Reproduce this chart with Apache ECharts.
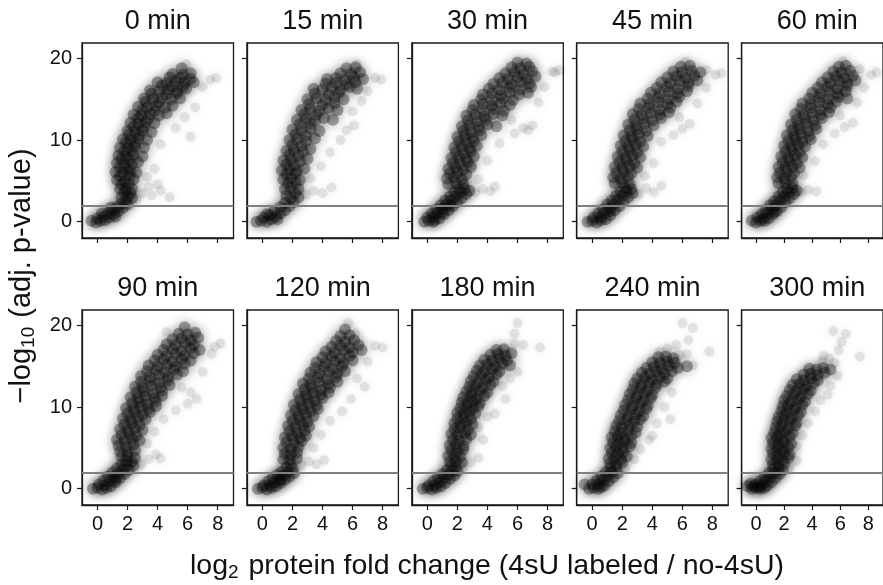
<!DOCTYPE html>
<html><head><meta charset="utf-8">
<script src="https://cdn.jsdelivr.net/npm/echarts@6/dist/echarts.min.js"></script>
<style>html,body{margin:0;padding:0;background:#fff}#c{width:883px;height:585px}</style>
</head><body><div id="c"></div>
<script>
const panelTitles = ['0 min','15 min','30 min','45 min','60 min','90 min','120 min','180 min','240 min','300 min'];
const xTicks = [0,2,4,6,8];
const yTicks = [0,10,20];
const threshold = 2;

// dense part of each panel's cloud
const core0 = [[-0.4,0.1],[-0.1,-0.1],[0.2,0.1],[0.5,0.2],[0.0,0.4],[0.4,0.6],[0.8,0.5],[0.3,1.0],[0.7,1.0],[1.1,0.9],[1.0,1.4],[1.4,1.3],[1.3,1.8],[1.7,1.7],[1.6,2.2],[2.0,2.1],[1.9,2.6],[1.2,0.6],[0.9,1.7],
[1.6,3],[2.0,3.1],[2.3,2.9],[1.8,3.6],[2.2,3.5],[1.5,4],[1.9,4.1],[2.3,4],[1.6,4.6],[2.1,4.7],[1.3,5.1],[1.8,5],[2.4,5.2],[1.5,5.6],[2.1,5.7],[1.2,6.1],[1.7,6],[2.2,6.2],[2.6,6],[1.5,6.7],[2.0,6.5],[1.3,7.2],[1.8,7],[2.3,7.1],[2.7,7.3],[1.6,7.7],[2.1,7.6],[1.4,8.1],[1.9,8],[2.4,8.2],[3.0,8],[1.8,8.7],[2.3,8.6],[1.5,9.1],[2.0,9],[2.5,9.2],[3.1,9.1],[1.9,9.7],[2.5,9.6],[1.7,10.1],[2.2,10],[2.7,10.2],[3.3,10],[2.1,10.7],[2.8,10.6],[2.0,11.1],[2.5,11],[3.0,11.2],[3.6,11],[2.4,11.7],[3.1,11.6],[2.2,12.1],[2.7,12],[3.2,12.2],[3.8,12.1],[2.7,12.7],[3.4,12.6],[2.4,13.1],[2.9,13],[3.5,13.2],[4.1,13],[4.6,13.3],[3.0,13.7],[3.8,13.6],[2.7,14.1],[3.3,14],[3.9,14.2],[4.5,14],[5.0,14.2],[3.2,14.7],[4.1,14.6],[3.1,15.1],[3.7,15],[4.3,15.2],[4.9,15],[5.5,15.1],[3.6,15.7],[4.6,15.6],[5.3,15.7],[3.5,16.1],[4.1,16],[4.7,16.2],[5.3,16],[5.9,16.3],[4.3,16.7],[5.0,16.6],[5.7,16.5],[4.0,17.1],[4.6,17],[5.2,17.2],[5.8,17],[6.4,17.1],[4.8,17.7],[5.5,17.6],[6.2,17.5],[5.0,18.1],[5.7,18],[6.2,18.2],[5.6,18.8]];
const core15 = [[-0.4,0],[-0.1,0.1],[0.3,0],[0.6,0.3],[0.1,0.5],[0.5,0.8],[0.9,0.6],[1.2,1.0],[0.8,1.3],[1.5,1.4],[1.2,1.8],[1.8,1.9],[1.5,2.3],[2.1,2.4],[1.9,2.9],[2.4,3.0],[2.2,3.5],[1.6,3.2],[1.0,0.3],[0.3,0.9],
[1.5,4.0],[1.9,4.2],[2.4,4.0],[1.7,4.7],[2.2,4.8],[1.4,5.2],[1.9,5.3],[2.5,5.1],[1.6,5.8],[2.2,5.9],[1.3,6.3],[1.8,6.4],[2.3,6.2],[2.8,6.5],[1.6,7.0],[2.1,6.9],[1.4,7.5],[1.9,7.6],[2.5,7.4],[3.0,7.7],[1.8,8.2],[2.4,8.1],[1.6,8.7],[2.1,8.8],[2.7,8.6],[3.2,8.9],[2.0,9.4],[2.6,9.3],[1.8,10.0],[2.3,10.1],[2.9,9.9],[3.5,10.2],[2.2,10.7],[2.9,10.6],[2.0,11.3],[2.6,11.2],[3.2,11.4],[3.8,11.1],[2.5,11.9],[3.2,12.0],[2.3,12.5],[2.9,12.6],[3.5,12.4],[4.1,12.7],[4.7,12.5],[2.8,13.2],[3.6,13.1],[2.6,13.7],[3.2,13.8],[3.8,13.6],[4.4,13.9],[5.0,13.7],[3.1,14.4],[4.0,14.3],[4.8,14.5],[3.0,15.0],[3.6,15.1],[4.2,14.9],[4.8,15.2],[5.4,15.0],[3.5,15.7],[4.4,15.6],[5.1,15.8],[3.4,16.3],[4.0,16.2],[4.6,16.4],[5.2,16.2],[5.8,16.5],[6.3,16.3],[4.2,16.9],[4.9,17.0],[5.6,16.8],[6.2,17.1],[4.3,17.5],[4.9,17.6],[5.5,17.4],[6.1,17.7],[6.7,17.5],[5.2,18.2],[5.9,18.1],[6.5,18.3],[5.6,18.8],[6.2,18.9]];
const core30 = [[-0.2,0],[0.1,0.1],[0.4,0.0],[0.0,0.5],[0.4,0.6],[0.8,0.4],[0.3,1.0],[0.7,1.1],[1.1,0.9],[0.6,1.5],[1.0,1.6],[1.4,1.4],[0.9,2.0],[1.3,2.1],[1.7,1.9],[1.2,2.6],[1.6,2.6],[2.0,2.4],[1.5,3.1],[1.9,3.1],[2.3,2.9],[1.8,3.6],[2.2,3.6],[2.6,3.4],[2.1,4.0],[2.5,4.0],[2.8,3.8],[0.5,0.2],[1.0,1.2],[1.5,2.0],
[1.4,4.6],[1.9,4.7],[2.4,4.6],[1.3,5.3],[1.8,5.4],[2.3,5.2],[1.5,5.9],[2.0,6.0],[2.6,5.8],[1.4,6.5],[1.9,6.6],[2.4,6.4],[2.9,6.7],[1.7,7.2],[2.2,7.1],[2.7,7.3],[1.6,7.8],[2.1,7.9],[2.6,7.7],[3.1,8.0],[1.9,8.5],[2.4,8.4],[2.9,8.6],[1.8,9.1],[2.3,9.2],[2.8,9.0],[3.3,9.3],[2.1,9.8],[2.6,9.7],[3.1,9.9],[2.0,10.4],[2.5,10.5],[3.0,10.3],[3.6,10.6],[2.4,11.1],[2.9,11.0],[3.5,11.2],[2.3,11.7],[2.8,11.8],[3.4,11.6],[4.0,11.9],[4.6,11.7],[2.7,12.4],[3.3,12.3],[3.9,12.5],[2.6,13.0],[3.2,13.1],[3.8,12.9],[4.4,13.2],[5.0,13.0],[3.0,13.7],[3.7,13.6],[4.4,13.8],[5.1,13.6],[3.1,14.3],[3.7,14.4],[4.3,14.2],[4.9,14.5],[5.5,14.3],[3.6,15.0],[4.3,14.9],[5.0,15.1],[5.7,14.9],[3.7,15.6],[4.3,15.7],[4.9,15.5],[5.5,15.8],[6.1,15.6],[6.7,15.8],[4.1,16.3],[4.8,16.2],[5.5,16.4],[6.2,16.2],[6.9,16.5],[4.4,16.9],[5.0,17.0],[5.6,16.8],[6.2,17.1],[6.8,16.9],[4.8,17.6],[5.4,17.5],[6.0,17.7],[6.6,17.5],[7.2,17.8],[5.2,18.2],[5.8,18.3],[6.4,18.1],[7.0,18.4],[5.6,18.9],[6.2,18.8],[6.8,19.0],[6.0,19.5],[6.6,19.4]];
const core45 = [[-0.3,0],[0.0,0.1],[0.3,-0.1],[0.1,0.5],[0.5,0.5],[0.9,0.3],[0.4,1.0],[0.8,1.0],[1.2,0.8],[0.7,1.5],[1.1,1.6],[1.5,1.4],[1.0,2.1],[1.4,2.1],[1.8,1.9],[1.3,2.6],[1.7,2.7],[2.1,2.5],[1.6,3.2],[2.0,3.2],[2.4,3.0],[1.9,3.7],[2.3,3.7],[2.7,3.5],[2.2,4.1],[2.6,4.0],[0.6,0.2],[1.2,1.3],
[1.5,4.7],[2.0,4.8],[2.5,4.6],[1.4,5.4],[1.9,5.3],[2.4,5.5],[1.6,6.0],[2.1,6.1],[2.6,5.9],[1.5,6.7],[2.0,6.6],[2.5,6.8],[3.0,6.6],[1.8,7.3],[2.3,7.4],[2.8,7.2],[1.7,8.0],[2.2,7.9],[2.7,8.1],[3.2,7.9],[2.0,8.6],[2.5,8.7],[3.0,8.5],[1.9,9.3],[2.4,9.2],[2.9,9.4],[3.4,9.2],[2.2,9.9],[2.7,10.0],[3.2,9.8],[2.1,10.6],[2.6,10.5],[3.1,10.7],[3.7,10.5],[2.5,11.2],[3.0,11.3],[3.6,11.1],[2.4,11.9],[2.9,11.8],[3.5,12.0],[4.1,11.8],[2.8,12.5],[3.4,12.6],[4.0,12.4],[4.6,12.7],[2.7,13.2],[3.3,13.1],[3.9,13.3],[4.5,13.1],[5.1,13.4],[3.1,13.8],[3.8,13.9],[4.5,13.7],[5.2,14.0],[3.2,14.5],[3.8,14.4],[4.4,14.6],[5.0,14.4],[5.6,14.7],[3.7,15.1],[4.4,15.2],[5.1,15.0],[5.8,15.3],[3.9,15.8],[4.5,15.7],[5.1,15.9],[5.7,15.7],[6.3,16.0],[4.3,16.4],[5.0,16.5],[5.7,16.3],[6.4,16.6],[4.6,17.1],[5.2,17.0],[5.8,17.2],[6.4,17.0],[7.0,17.3],[5.0,17.7],[5.6,17.8],[6.2,17.6],[6.8,17.9],[5.4,18.4],[6.0,18.3],[6.6,18.5],[7.2,18.3],[5.9,19.0],[6.5,19.1]];
const core60 = [[-0.3,0.1],[0.0,-0.1],[0.3,0.1],[0.1,0.5],[0.5,0.4],[0.9,0.4],[0.4,0.9],[0.8,1.0],[1.2,0.9],[0.7,1.4],[1.1,1.5],[1.5,1.3],[1.0,2.0],[1.4,2.0],[1.8,1.8],[1.3,2.5],[1.7,2.6],[2.1,2.4],[1.6,3.1],[2.0,3.1],[2.4,2.9],[1.9,3.6],[2.3,3.6],[2.7,3.4],[2.2,4.0],[2.6,4.1],[2.9,3.8],[0.6,0.1],[1.3,1.2],
[1.6,4.7],[2.1,4.8],[2.6,4.6],[1.5,5.4],[2.0,5.3],[2.5,5.5],[1.7,6.0],[2.2,6.1],[2.7,5.9],[1.6,6.7],[2.1,6.6],[2.6,6.8],[3.1,6.6],[1.9,7.3],[2.4,7.4],[2.9,7.2],[1.8,8.0],[2.3,7.9],[2.8,8.1],[3.3,7.9],[2.1,8.6],[2.6,8.7],[3.1,8.5],[2.0,9.3],[2.5,9.2],[3.0,9.4],[3.5,9.2],[2.3,9.9],[2.8,10.0],[3.3,9.8],[3.9,10.1],[2.2,10.6],[2.7,10.5],[3.2,10.7],[3.8,10.5],[2.6,11.2],[3.1,11.3],[3.7,11.1],[4.3,11.4],[2.5,11.9],[3.0,11.8],[3.6,12.0],[4.2,11.8],[2.9,12.5],[3.5,12.6],[4.1,12.4],[4.7,12.7],[2.8,13.2],[3.4,13.1],[4.0,13.3],[4.6,13.1],[5.2,13.4],[3.2,13.8],[3.9,13.9],[4.6,13.7],[5.3,14.0],[3.3,14.5],[3.9,14.4],[4.5,14.6],[5.1,14.4],[5.7,14.7],[3.8,15.1],[4.5,15.2],[5.2,15.0],[5.9,15.3],[6.5,15.1],[4.0,15.8],[4.6,15.7],[5.2,15.9],[5.8,15.7],[6.4,16.0],[4.4,16.4],[5.1,16.5],[5.8,16.3],[6.5,16.6],[4.7,17.1],[5.3,17.0],[5.9,17.2],[6.5,17.0],[7.1,17.3],[5.1,17.7],[5.7,17.8],[6.3,17.6],[6.9,17.9],[5.5,18.4],[6.1,18.3],[6.7,18.5],[5.9,19.0],[6.4,19.1]];
const core90 = [[-0.3,0],[0.0,0.1],[0.3,-0.1],[0.1,0.5],[0.5,0.4],[0.9,0.3],[0.4,1.0],[0.8,0.9],[1.2,0.8],[0.7,1.5],[1.1,1.4],[1.5,1.3],[1.0,2.0],[1.4,1.9],[1.8,1.8],[1.3,2.5],[1.7,2.4],[2.1,2.3],[1.6,3.0],[2.0,2.9],[2.4,2.8],[1.9,3.4],[2.3,3.3],[0.6,0.1],[1.2,1.1],
[1.6,3.9],[2.0,4.0],[2.5,3.8],[1.5,4.6],[2.0,4.5],[2.5,4.7],[1.4,5.3],[1.9,5.2],[2.4,5.4],[1.3,6.0],[1.8,5.9],[2.3,6.1],[2.8,5.9],[1.6,6.6],[2.1,6.7],[2.6,6.5],[1.5,7.3],[2.0,7.2],[2.5,7.4],[3.0,7.2],[1.8,7.9],[2.3,8.0],[2.8,7.8],[1.7,8.6],[2.2,8.5],[2.7,8.7],[3.2,8.5],[2.0,9.2],[2.5,9.3],[3.0,9.1],[3.5,9.4],[1.9,9.9],[2.4,9.8],[2.9,10.0],[3.4,9.8],[3.9,10.1],[2.3,10.5],[2.8,10.6],[3.3,10.4],[3.9,10.7],[2.2,11.2],[2.7,11.1],[3.2,11.3],[3.8,11.1],[4.3,11.4],[2.6,11.8],[3.1,11.9],[3.7,11.7],[4.3,12.0],[2.5,12.5],[3.0,12.4],[3.6,12.6],[4.2,12.4],[4.8,12.7],[2.9,13.1],[3.5,13.2],[4.1,13.0],[4.7,13.3],[2.9,13.8],[3.5,13.7],[4.1,13.9],[4.7,13.7],[5.3,14.0],[3.3,14.4],[3.9,14.5],[4.5,14.3],[5.1,14.6],[5.7,14.4],[3.4,15.1],[4.0,15.0],[4.6,15.2],[5.2,15.0],[5.8,15.3],[3.8,15.7],[4.4,15.8],[5.0,15.6],[5.6,15.9],[6.2,15.7],[4.0,16.4],[4.6,16.3],[5.2,16.5],[5.8,16.3],[6.4,16.6],[4.4,17.0],[5.0,17.1],[5.6,16.9],[6.2,17.2],[6.8,17.0],[4.6,17.7],[5.2,17.6],[5.8,17.8],[6.4,17.6],[5.0,18.3],[5.6,18.4],[6.2,18.2],[6.7,18.5],[5.4,19.0],[6.0,18.9],[6.5,19.1],[5.8,19.8]];
const core120 = [[-0.3,0],[0.0,0.1],[0.3,-0.1],[0.1,0.4],[0.5,0.4],[0.9,0.3],[0.4,0.9],[0.8,0.8],[1.2,0.7],[0.7,1.3],[1.1,1.2],[1.5,1.1],[1.0,1.7],[1.4,1.6],[1.8,1.5],[1.3,2.1],[1.7,2.0],[2.1,1.9],[1.6,2.6],[2.0,2.5],[1.9,3.0],[0.6,0.1],[1.2,1.0],
[1.4,3.6],[1.8,3.5],[2.3,3.7],[1.5,4.3],[1.9,4.2],[2.3,4.4],[1.4,5.0],[1.9,4.9],[2.4,5.1],[1.6,5.7],[2.1,5.6],[2.6,5.8],[1.5,6.3],[2.0,6.4],[2.5,6.2],[2.9,6.5],[1.8,7.0],[2.3,6.9],[2.8,7.1],[1.7,7.7],[2.2,7.6],[2.7,7.8],[3.1,7.6],[2.0,8.3],[2.5,8.4],[3.0,8.2],[1.9,9.0],[2.4,8.9],[2.9,9.1],[3.4,8.9],[2.2,9.6],[2.7,9.7],[3.2,9.5],[3.7,9.8],[2.1,10.3],[2.6,10.2],[3.1,10.4],[3.6,10.2],[2.5,10.9],[3.0,11.0],[3.5,10.8],[4.0,11.1],[2.4,11.6],[2.9,11.5],[3.4,11.7],[3.9,11.5],[4.4,11.8],[2.8,12.2],[3.3,12.3],[3.9,12.1],[4.5,12.4],[2.7,12.9],[3.2,12.8],[3.8,13.0],[4.4,12.8],[5.0,13.1],[3.1,13.5],[3.7,13.6],[4.3,13.4],[4.9,13.7],[3.2,14.2],[3.8,14.1],[4.4,14.3],[5.0,14.1],[5.5,14.4],[3.5,14.8],[4.1,14.9],[4.7,14.7],[5.3,15.0],[3.6,15.5],[4.2,15.4],[4.8,15.6],[5.4,15.4],[6.0,15.7],[4.0,16.1],[4.6,16.2],[5.2,16.0],[5.8,16.3],[4.2,16.8],[4.8,16.7],[5.4,16.9],[6.0,16.7],[6.6,17.0],[4.6,17.4],[5.2,17.5],[5.8,17.3],[6.4,17.6],[4.9,18.1],[5.5,18.0],[6.1,18.2],[5.2,18.7],[5.8,18.8],[5.5,19.5]];
const core180 = [[-0.3,0],[0.0,0.1],[0.3,-0.1],[0.1,0.4],[0.5,0.4],[0.9,0.3],[0.4,0.9],[0.8,0.8],[1.2,0.7],[0.7,1.3],[1.1,1.3],[1.5,1.2],[1.0,1.8],[1.4,1.7],[1.8,1.6],[1.3,2.3],[1.7,2.2],[2.0,2.1],[1.6,2.8],[1.9,2.7],[0.6,0.1],
[1.5,3.3],[1.9,3.4],[2.3,3.2],[1.4,4.0],[1.8,4.1],[2.2,3.9],[1.6,4.7],[2.0,4.6],[2.4,4.8],[1.5,5.3],[1.9,5.4],[2.4,5.2],[1.7,6.0],[2.1,5.9],[2.6,6.1],[1.6,6.7],[2.0,6.6],[2.5,6.8],[2.9,6.6],[1.8,7.3],[2.2,7.4],[2.7,7.2],[1.8,8.0],[2.2,7.9],[2.6,8.1],[3.0,7.9],[2.0,8.6],[2.4,8.7],[2.9,8.5],[2.0,9.3],[2.4,9.2],[2.8,9.4],[3.2,9.2],[2.2,9.9],[2.6,10.0],[3.0,9.8],[3.4,10.1],[2.3,10.6],[2.7,10.5],[3.1,10.7],[3.5,10.5],[2.4,11.2],[2.9,11.3],[3.3,11.1],[3.8,11.4],[2.6,11.9],[3.0,11.8],[3.5,12.0],[4.0,11.8],[2.8,12.5],[3.2,12.6],[3.7,12.4],[4.2,12.7],[2.9,13.2],[3.4,13.1],[3.9,13.3],[4.4,13.1],[3.1,13.8],[3.6,13.9],[4.1,13.7],[4.6,14.0],[3.3,14.5],[3.8,14.4],[4.3,14.6],[4.8,14.4],[3.5,15.1],[4.0,15.2],[4.5,15.0],[5.0,15.3],[5.5,15.1],[3.8,15.8],[4.3,15.7],[4.8,15.9],[5.3,15.7],[4.2,16.4],[4.7,16.5],[5.2,16.3],[5.6,16.6],[4.6,17.0],[5.1,17.1]];
const core240 = [[-0.5,0.5],[-0.2,0],[0.1,0.1],[0.4,0],[0.0,0.5],[0.4,0.5],[0.8,0.4],[0.3,1.0],[0.7,1.0],[1.1,0.9],[0.6,1.5],[1.0,1.5],[1.4,1.4],[0.9,2.0],[1.3,2.0],[1.7,1.9],[1.2,2.5],[1.6,2.5],[0.6,0.2],
[1.2,3.1],[1.6,3.0],[2.0,3.2],[1.1,3.7],[1.5,3.8],[1.9,3.6],[2.3,3.9],[1.3,4.4],[1.7,4.3],[2.1,4.5],[1.2,5.0],[1.6,5.1],[2.0,4.9],[2.5,5.2],[1.4,5.7],[1.8,5.6],[2.2,5.8],[2.6,5.6],[1.3,6.3],[1.7,6.4],[2.1,6.2],[2.6,6.5],[1.5,7.0],[1.9,6.9],[2.4,7.1],[2.9,6.9],[1.6,7.7],[2.0,7.6],[2.5,7.8],[3.0,7.6],[1.8,8.3],[2.3,8.4],[2.8,8.2],[3.2,8.5],[1.9,9.0],[2.4,8.9],[2.9,9.1],[3.4,8.9],[2.1,9.6],[2.6,9.7],[3.1,9.5],[3.6,9.8],[2.2,10.3],[2.7,10.2],[3.2,10.4],[3.7,10.2],[2.4,10.9],[2.9,11.0],[3.4,10.8],[3.9,11.1],[2.5,11.6],[3.0,11.5],[3.5,11.7],[4.0,11.5],[2.7,12.2],[3.2,12.3],[3.7,12.1],[4.2,12.4],[2.8,12.9],[3.3,12.8],[3.8,13.0],[4.3,12.8],[4.8,13.1],[3.0,13.5],[3.5,13.6],[4.0,13.4],[4.5,13.7],[5.0,13.5],[3.3,14.2],[3.8,14.1],[4.3,14.3],[4.8,14.1],[5.3,14.4],[3.6,14.8],[4.1,14.9],[4.6,14.7],[5.1,15.0],[5.7,14.8],[6.3,15.0],[4.0,15.5],[4.5,15.4],[5.0,15.6],[5.5,15.4],[4.4,16.1],[4.9,16.2],[5.4,16.0]];
const core300 = [[-0.6,0.3],[-0.3,0],[0.0,0.1],[0.3,0],[0.6,0.1],[-0.4,0.6],[0.0,0.5],[0.4,0.4],[0.8,0.4],[0.3,0.9],[0.7,0.9],[1.1,0.8],[0.6,1.4],[1.0,1.4],[1.4,1.3],[0.9,1.9],[1.3,1.9],[1.7,1.8],[1.2,2.4],[1.6,2.4],[1.9,2.3],[-0.2,0.3],[0.2,0.2],
[1.2,3.0],[1.6,2.9],[2.0,3.1],[1.1,3.6],[1.5,3.7],[1.9,3.5],[2.3,3.8],[1.2,4.3],[1.6,4.2],[2.0,4.4],[2.4,4.2],[1.1,4.9],[1.5,5.0],[1.9,4.8],[2.3,5.1],[1.2,5.6],[1.6,5.5],[2.0,5.7],[2.5,5.5],[1.1,6.2],[1.5,6.3],[1.9,6.1],[2.4,6.4],[1.3,6.9],[1.7,6.8],[2.1,7.0],[2.6,6.8],[1.4,7.5],[1.8,7.6],[2.3,7.4],[2.8,7.7],[1.5,8.2],[1.9,8.1],[2.4,8.3],[2.9,8.1],[1.6,8.8],[2.0,8.9],[2.5,8.7],[3.0,9.0],[1.8,9.5],[2.2,9.4],[2.7,9.6],[3.2,9.4],[1.9,10.1],[2.3,10.2],[2.8,10.0],[3.3,10.3],[2.0,10.8],[2.5,10.7],[3.0,10.9],[3.5,10.7],[2.2,11.4],[2.7,11.5],[3.2,11.3],[3.7,11.6],[2.4,12.1],[2.9,12.0],[3.4,12.2],[3.9,12.0],[2.6,12.7],[3.1,12.8],[3.6,12.6],[4.1,12.9],[2.9,13.4],[3.4,13.3],[3.9,13.5],[4.4,13.3],[3.4,14.0],[3.9,14.1],[4.4,13.9],[4.9,14.2],[3.8,14.7],[4.3,14.6],[4.8,14.8],[5.3,14.6]];

// scattered proteins outside the dense band
const sparse0 = [[2.6,2.8],[3.0,3.5],[3.6,3.2],[4.2,3.8],[4.8,3.0],[3.3,5.5],[3.8,6.5],[4.2,9.5],[6.2,10.4],[5.2,11.5],[5.8,12.8],[6.5,14],[7.0,16.5],[7.9,17.6],[7.5,17.4],[5.9,19.3],[3.4,4.3],[4.0,4.6]];
const sparse15 = [[2.9,3.3],[3.4,3.8],[4.0,3.5],[4.6,4.2],[3.2,5.3],[3.9,6.8],[4.5,8.5],[5.6,11.2],[6.1,11.8],[6.0,13.5],[6.6,14.8],[7.0,16.0],[7.5,17.6],[7.9,17.4],[6.3,19.3],[5.2,10.0]];
const sparse30 = [[3.2,3.6],[3.7,4.0],[4.2,3.7],[4.5,4.3],[3.4,5.2],[4.0,7.5],[4.8,9.6],[5.8,10.8],[6.4,11.5],[7.0,11.8],[6.7,11.2],[5.6,12.5],[7.4,14.6],[7.8,16.5],[8.3,18.4],[8.8,18.6],[8.5,18.3],[3.0,7.0]];
const sparse45 = [[3.1,3.4],[3.6,4.1],[4.1,3.6],[4.6,4.4],[3.5,5.6],[4.1,7.2],[4.6,9.8],[5.4,10.6],[6.0,11.4],[6.5,12.0],[5.8,12.8],[7.0,14.5],[7.6,16.4],[8.2,18.0],[8.6,18.2],[7.6,18.6],[6.2,19.6]];
const sparse60 = [[3.2,3.6],[3.7,3.9],[4.3,3.7],[3.4,5.7],[4.2,7.4],[4.8,9.5],[5.6,10.8],[6.3,11.6],[6.9,12.1],[6.0,13.0],[7.2,14.6],[7.7,16.4],[8.2,18.0],[8.6,18.3],[7.4,18.7],[6.2,19.7]];
const sparse90 = [[2.9,3.0],[3.4,3.6],[3.9,4.2],[4.2,3.7],[3.3,5.5],[3.8,7.0],[4.4,8.5],[5.2,9.6],[6.0,10.4],[6.6,11.0],[6.2,11.8],[5.6,12.4],[7.0,14.3],[7.6,16.5],[8.2,17.8],[7.8,17.4],[4.6,19.2]];
const sparse120 = [[2.6,2.9],[3.1,3.3],[3.6,3.0],[4.1,3.5],[3.4,5.0],[3.9,6.6],[4.5,8.3],[5.3,9.5],[5.9,11.0],[6.8,12.5],[6.3,13.5],[7.0,15.6],[7.5,17.5],[8.0,17.3],[6.2,19.0],[5.7,20.3]];
const sparse180 = [[2.4,2.6],[2.9,3.2],[3.4,3.8],[3.7,6.0],[3.4,7.5],[4.0,8.8],[4.5,9.2],[5.2,11.0],[5.0,12.6],[5.5,13.5],[6.0,14.3],[5.8,17.8],[6.4,17.6],[7.5,17.3],[5.8,19.0],[6.0,20.3]];
const sparse240 = [[2.2,2.5],[2.8,3.6],[3.2,4.8],[3.8,6.0],[4.0,6.5],[4.3,8.0],[5.2,8.5],[4.8,10.0],[5.3,11.8],[6.7,15.1],[4.5,16.8],[5.0,17.2],[5.6,17.6],[6.3,16.5],[5.8,16.4],[6.4,18.2],[7.8,16.8],[6.7,19.7],[6.0,20.3]];
const sparse300 = [[2.4,2.6],[2.9,3.4],[2.9,5.2],[3.3,6.5],[3.7,8.0],[4.2,9.5],[4.6,10.8],[5.1,11.5],[5.3,12.6],[5.8,13.8],[4.7,15.6],[5.2,16.0],[4.8,16.3],[5.6,15.4],[5.9,17.0],[7.4,16.2],[5.5,19.3],[6.4,19.0],[6.1,18.0]];

const coreData = [core0,core15,core30,core45,core60,core90,core120,core180,core240,core300];
const sparseData = [sparse0,sparse15,sparse30,sparse45,sparse60,sparse90,sparse120,sparse180,sparse240,sparse300];

const FONT = '"Liberation Sans", Arial, Helvetica, sans-serif';
const chart = echarts.init(document.getElementById('c'), null, {renderer:'canvas'});
const grids = [], xAxes = [], yAxes = [], series = [], graphics = [];
const L0 = 82, STEP = 164.9, W = 151.5, H = 195, TOPS = [43, 310];
for (let i = 0; i < coreData.length; i++) {
  const row = Math.floor(i / 5), col = i % 5;
  const left = L0 + col * STEP, top = TOPS[row];
  grids.push({left: left, top: top, width: W, height: H, show: true, borderColor: '#1a1a1a', borderWidth: 1.3, backgroundColor: 'transparent', containLabel: false});
  xAxes.push({type: 'value', gridIndex: i, min: -1.03, max: 9.05,
    axisLine: {show: true, onZero: false, lineStyle: {color: '#1a1a1a', width: 1.3}},
    axisTick: {show: true, customValues: xTicks, length: 5, lineStyle: {color: '#1a1a1a', width: 1.2}},
    axisLabel: {show: row === 1, customValues: xTicks, fontSize: 20, color: '#111', fontFamily: FONT, margin: 9},
    splitLine: {show: false}});
  yAxes.push({type: 'value', gridIndex: i, min: -2, max: 21.9,
    axisLine: {show: true, onZero: false, lineStyle: {color: '#1a1a1a', width: 1.3}},
    axisTick: {show: true, customValues: yTicks, length: 5, lineStyle: {color: '#1a1a1a', width: 1.2}},
    axisLabel: {show: col === 0, customValues: yTicks, fontSize: 20, color: '#111', fontFamily: FONT, margin: 10},
    splitLine: {show: false}});
  series.push({type: 'scatter', xAxisIndex: i, yAxisIndex: i, data: sparseData[i],
    symbol: 'circle', symbolSize: 10, silent: true,
    itemStyle: {color: 'rgba(0,0,0,0.11)', shadowBlur: 8, shadowColor: 'rgba(0,0,0,1)'}});
  series.push({type: 'scatter', xAxisIndex: i, yAxisIndex: i, data: coreData[i],
    symbol: 'circle', symbolSize: 12, silent: true,
    itemStyle: {color: 'rgba(0,0,0,0.40)', shadowBlur: 12, shadowColor: 'rgba(0,0,0,1)'},
    markLine: {silent: true, symbol: 'none', label: {show: false}, animation: false,
      lineStyle: {color: '#808080', width: 2, type: 'solid'}, data: [{yAxis: threshold}]}});
  graphics.push({type: 'text', x: left + W / 2, y: top - 21, style: {text: panelTitles[i], align: 'center', verticalAlign: 'middle', fontSize: 27, fontFamily: FONT, fill: '#111'}});
}
graphics.push({type: 'text', x: 487, y: 566, style: {text: 'log{s|2} protein fold change (4sU labeled / no-4sU)', align: 'center', verticalAlign: 'middle', fontSize: 28.5, fontFamily: FONT, fill: '#111',
  rich: {s: {fontSize: 19, fontFamily: FONT, fill: '#111', padding: [14, 2, 0, 0]}}}});
graphics.push({type: 'text', x: 22, y: 276, rotation: Math.PI / 2, style: {text: '\u2212log{s|10} (adj. p-value)', align: 'center', verticalAlign: 'middle', fontSize: 29, fontFamily: FONT, fill: '#111',
  rich: {s: {fontSize: 19, fontFamily: FONT, fill: '#111', padding: [14, 1, 0, 0]}}}});

chart.setOption({animation: false, grid: grids, xAxis: xAxes, yAxis: yAxes, series: series, graphic: graphics});
</script></body></html>
